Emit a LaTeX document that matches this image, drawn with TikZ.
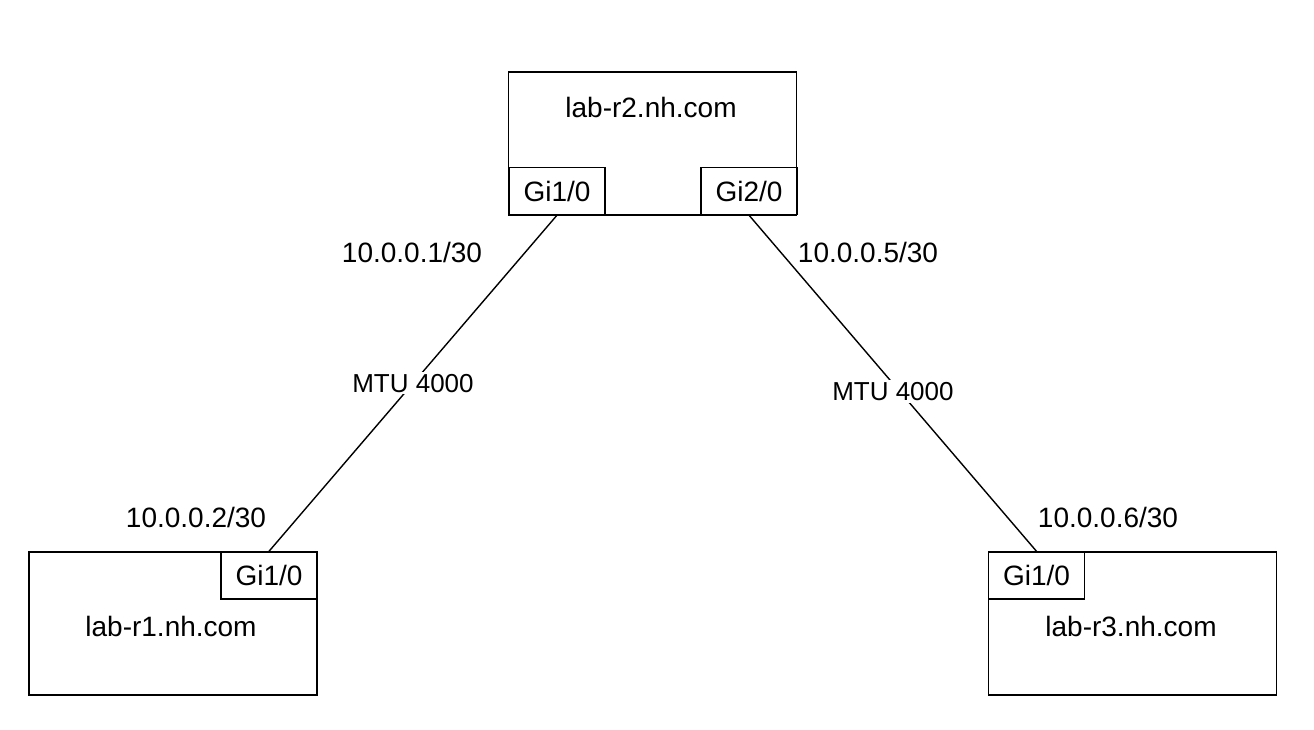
\documentclass[tikz,border=0pt]{standalone}
\usepackage{fontspec}
\setmainfont{Liberation Sans}
\begin{document}
\begin{tikzpicture}[x=1pt,y=-1pt,
  router/.style={draw,line width=1.4pt,minimum width=288pt,minimum height=143pt,inner sep=0pt},
  port/.style={draw,line width=1.4pt,minimum width=96pt,minimum height=47pt,inner sep=0pt,font=\fontsize{28}{32}\selectfont},
  host/.style={font=\fontsize{28}{32}\selectfont},
  addr/.style={font=\fontsize{28}{32}\selectfont},
  link/.style={line width=1.4pt},
  mtu/.style={fill=white,inner sep=2pt,font=\fontsize{26}{30}\selectfont}]
\useasboundingbox (0,0) rectangle (1314,730);

% routers
\node[router] (r2) at (652.5,143.5) {};
\node[router] (r1) at (173,623.5) {};
\node[router] (r3) at (1132.5,623.5) {};

% interfaces
\node[port] (r2g1) at (557,191) {Gi1/0};
\node[port] (r2g2) at (749,191) {Gi2/0};
\node[port] (r1g1) at (269,575.5) {Gi1/0};
\node[port] (r3g1) at (1036.5,575.5) {Gi1/0};

% host names
\node[host] (r2n) at (651,107) {lab-r2.nh.com};
\node[host] (r1n) at (171,626) {lab-r1.nh.com};
\node[host] (r3n) at (1131,626) {lab-r3.nh.com};

% links
\draw[link] (r2g1.south) -- node[mtu,pos=0.5] (m1) {MTU 4000} (r1g1.north);
\draw[link] (r2g2.south) -- node[mtu,pos=0.525,xshift=-7pt] (m2) {MTU 4000} (r3g1.north);

% addresses
\node[addr] (a1) at (412,252) {10.0.0.1/30};
\node[addr] (a5) at (868,252) {10.0.0.5/30};
\node[addr] (a2) at (196,517) {10.0.0.2/30};
\node[addr] (a6) at (1108,517) {10.0.0.6/30};
\end{tikzpicture}
\end{document}
